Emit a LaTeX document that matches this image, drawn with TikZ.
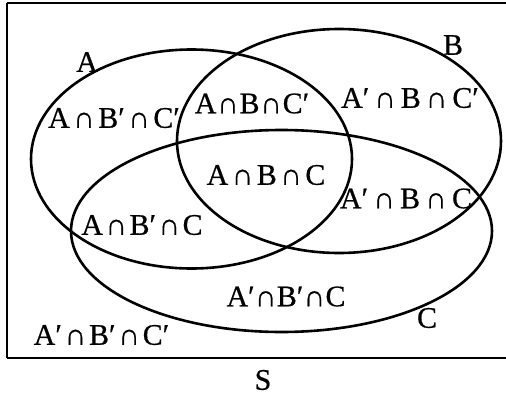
\documentclass[tikz,border=0pt]{standalone}
\usepackage{fontspec}
\setmainfont{Liberation Serif}
\newfontfamily\lblfont[FakeBold=0.6]{Liberation Serif}
\newcommand{\cp}[1][3.5]{\hspace{#1bp}∩\hspace{#1bp}}
\begin{document}
\begin{tikzpicture}[x=1bp,y=1bp,
  setline/.style={line width=2.6bp},
  boxline/.style={line width=2bp},
  lbl/.style={inner sep=0pt, font=\lblfont\fontsize{30}{34}\selectfont},
]
\useasboundingbox (0,0) rectangle (506,398);
\clip (0,0) rectangle (506,398);
\draw[boxline] (7,395) -- (515,395);
\draw[boxline] (7,40) -- (515,40);
\draw[boxline] (7,40) -- (7,395);
% sets
\draw[setline] (191.5,239) ellipse [x radius=160.5, y radius=109.5];
\draw[setline] (339,257) ellipse [x radius=162, y radius=112];
\draw[setline] (281.5,167) ellipse [x radius=210.5, y radius=101];
% set names
\node[lbl] (nA) at (87,336) {A};
\node[lbl] (nB) at (453,353) {B};
\node[lbl] (nC) at (427,80) {C};
\node[lbl] (nS) at (263,18) {S};
% regions
\node[lbl] (r1) at (114,280) {A\cp B′\cp C′};
\node[lbl] (r2) at (252,294.5) {A\cp[0.8]B\cp[0.8]C′};
\node[lbl] (r3) at (410,300) {A′\cp[5]B\cp[5]C′};
\node[lbl] (r4) at (266,223) {A\cp B\cp C};
\node[lbl] (r5) at (406,199.5) {A′\cp[5.2]B\cp[5.2]C};
\node[lbl] (r6) at (142,173) {A\cp[2.5]B′\cp[2.5]C};
\node[lbl] (r7) at (286,101.5) {A′\cp[0.3]B′\cp[0.3]C};
\node[lbl] (r8) at (101.5,63) {A′\cp[2.8]B′\cp[2.8]C′};
\end{tikzpicture}
\end{document}
